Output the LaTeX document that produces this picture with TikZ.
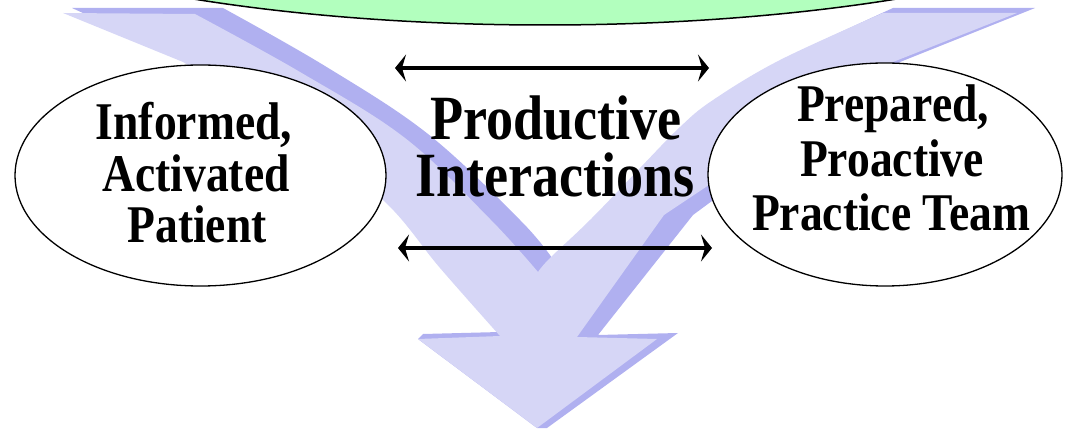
\documentclass[tikz,border=0pt]{standalone}
\usepackage{fontspec}
\setmainfont{Liberation Serif}
\newfontfamily\lblfont[FakeStretch=0.86]{Liberation Serif}
\usetikzlibrary{arrows.meta,shapes.geometric}
\definecolor{lav}{RGB}{214,214,246}
\definecolor{lavdark}{RGB}{176,176,240}
\definecolor{mint}{RGB}{178,255,190}
\begin{document}
\begin{tikzpicture}[x=1pt,y=-1pt,
  sidetext/.style={font=\lblfont\bfseries\fontsize{53}{51}\selectfont, anchor=base, inner sep=0pt},
  midtext/.style={font=\lblfont\bfseries\fontsize{63}{57}\selectfont, anchor=base, inner sep=0pt},
  oval/.style={ellipse, draw=black, line width=1.3pt, fill=white, inner sep=0pt},
  dblarrow/.style={line width=4.6pt, {Stealth[length=11pt,width=27pt,inset=4pt]}-{Stealth[length=11pt,width=27pt,inset=4pt]}}]
\useasboundingbox (0,0) rectangle (1066,430);
\clip (0,0) rectangle (1066,430);
% top green system ellipse (mostly outside the picture)
\node[ellipse, draw=black, line width=1.5pt, fill=mint, minimum width=1340pt, minimum height=350pt, inner sep=0pt] (system) at (545,-150) {};
% big 3D arrow: dark side faces
\fill[lavdark] (72,8) -- (223,8)
  -- plot[smooth, tension=0.6] coordinates {(223,8) (325,66) (428,134) (520,220) (552,258)}
  -- plot[smooth, tension=0.6] coordinates {(552,258) (594,219) (643,168) (683,127) (716,100) (783,60) (893,8)}
  -- (1035,8) -- (900,62) -- (693,215) -- (598,335) -- (678,333) -- (547,428)
  -- (537,428) -- (418,339) -- (423,334) -- (500,332)
  -- plot[smooth, tension=0.6] coordinates {(500,332) (445,268) (388,200) (295,128) (190,62)}
  -- cycle;
% big 3D arrow: light front face
\fill[lav] (63,13) -- (195,14)
  -- plot[smooth, tension=0.6] coordinates {(195,14) (300,72) (405,138) (490,219) (538,272)}
  -- plot[smooth, tension=0.6] coordinates {(538,272) (550,258) (591,219) (640,168) (680,127) (713,100) (780,60) (883,13)}
  -- (1017,13) -- (893,62) -- (664,215) -- (577,337) -- (657,339) -- (537,428)
  -- (418,339) -- (500,336)
  -- plot[smooth, tension=0.6] coordinates {(500,336) (440,268) (383,200) (290,128) (183,62)}
  -- cycle;
% ellipses
\node[oval, minimum width=371pt, minimum height=221pt] (patient) at (200.5,175.5) {};
\node[oval, minimum width=354pt, minimum height=223pt] (team) at (885,174.5) {};
% texts
\node[sidetext] (p1) at (194,140) {Informed,};
\node[sidetext] (p2) at (196,192) {Activated};
\node[sidetext] (p3) at (197,243) {Patient};
\node[midtext] (m1) at (556,140) {Productive};
\node[midtext] (m2) at (555,197) {Interactions};
\node[sidetext] (r1) at (893,122) {Prepared,};
\node[sidetext] (r2) at (892,177) {Proactive};
\node[sidetext] (r3) at (891,231) {Practice Team};
% double arrows
\coordinate (t1) at (395,68);
\coordinate (t2) at (709,68);
\coordinate (b1) at (398,248);
\coordinate (b2) at (712,248);
\draw[dblarrow] (t1) -- (t2);
\draw[dblarrow] (b1) -- (b2);
\end{tikzpicture}
\end{document}
